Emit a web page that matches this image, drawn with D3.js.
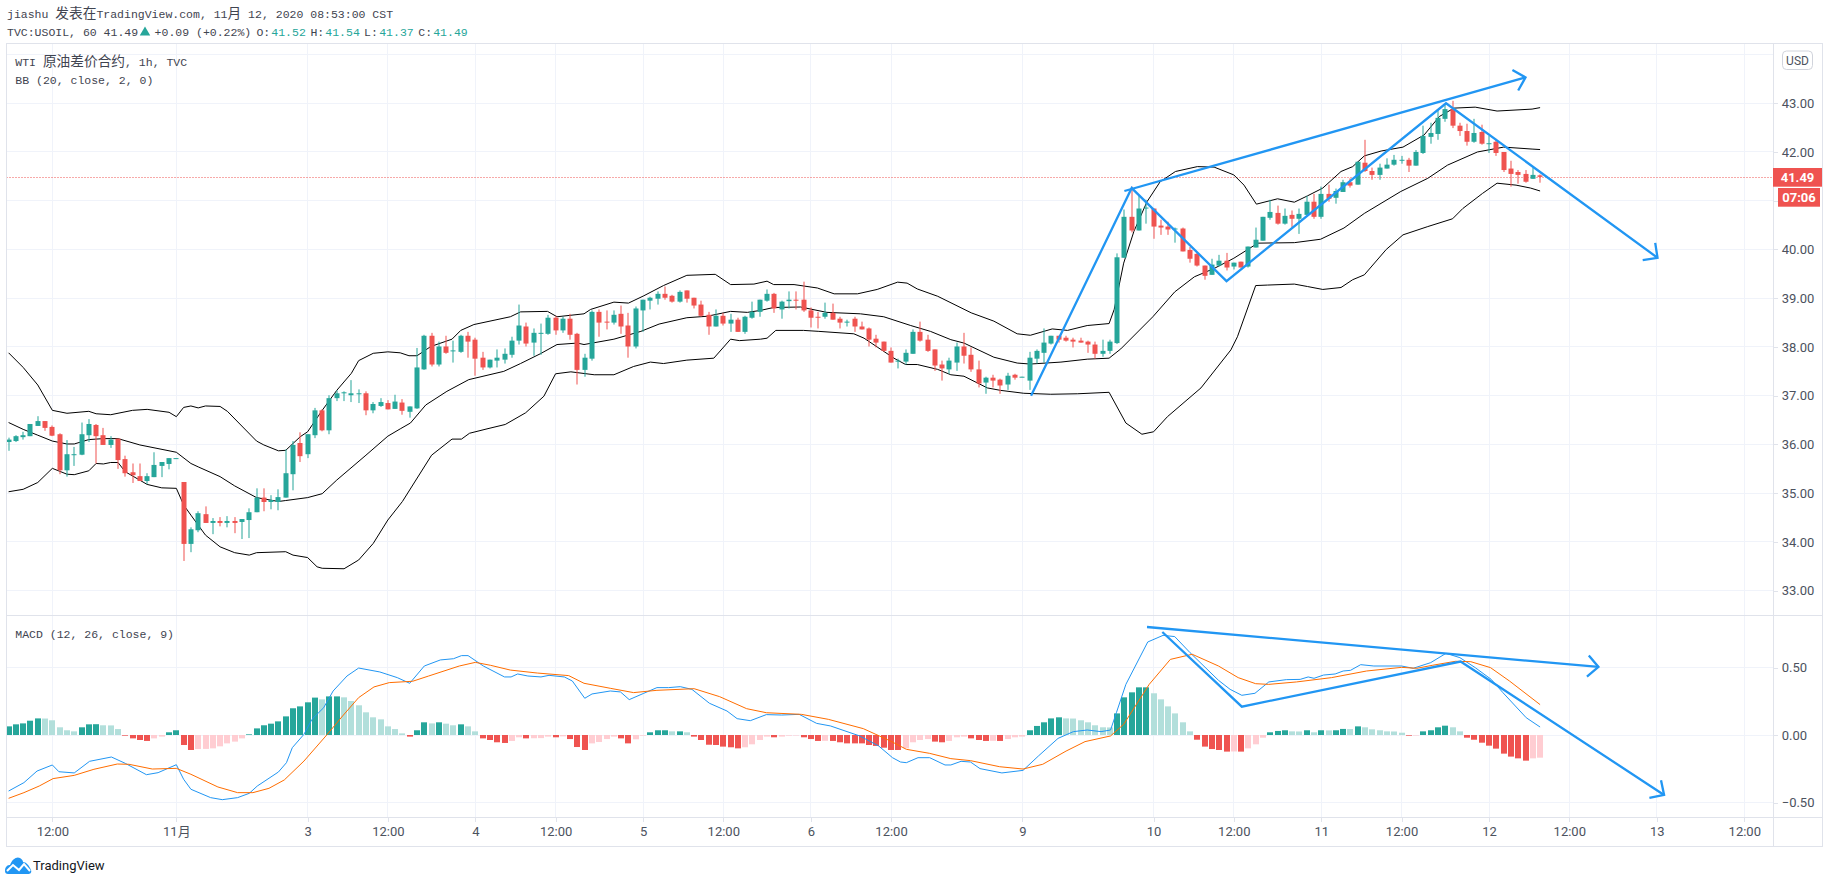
<!DOCTYPE html>
<html>
<head>
<meta charset="utf-8">
<script src="https://cdn.jsdelivr.net/npm/d3@7"></script>
<style>
  html, body { margin: 0; padding: 0; background: #fff; overflow: hidden; }
  text { white-space: pre; }
</style>
</head>
<body>
<div id="chart"></div>
<script>
// hourly candles, one value per bar
let openPx = [
  36.05,36.07,36.15,36.17,36.38,36.48,36.36,36.21,35.47,35.79,
  35.79,36.19,36.40,36.19,35.99,36.12,35.70,35.43,35.35,35.25,
  35.33,35.56,35.60,35.71,35.23,33.96,34.24,34.57,34.39,34.43,
  34.39,34.43,34.41,34.45,34.61,34.91,34.82,34.82,34.91,35.39,
  36.03,35.80,36.19,36.70,36.29,36.95,37.05,37.01,37.04,37.05,
  36.70,36.79,36.85,36.73,36.86,36.67,36.74,37.54,38.23,37.64,
  38.01,37.91,37.90,38.23,38.15,37.78,37.58,37.72,37.74,37.84,
  38.13,38.42,38.09,38.28,38.27,38.60,38.34,38.58,38.27,37.53,
  37.76,38.72,38.52,38.50,38.68,38.44,38.01,38.75,38.95,38.99,
  39.09,39.05,38.93,39.16,39.01,38.87,38.66,38.42,38.64,38.48,
  38.56,38.31,38.60,38.72,38.95,39.09,38.77,38.94,38.97,38.97,
  38.75,38.62,38.62,38.70,38.58,38.51,38.58,38.42,38.38,38.17,
  38.11,37.92,37.71,37.70,37.86,38.31,38.15,37.95,37.64,37.54,
  37.68,38.01,37.84,37.54,37.27,37.37,37.33,37.23,37.43,37.38,
  37.31,37.76,37.88,38.07,38.23,38.19,38.15,38.13,38.11,38.05,
  37.86,37.92,38.08,39.83,40.67,40.39,40.85,40.84,40.49,40.47,
  40.42,40.43,39.99,39.91,39.67,39.48,39.67,39.77,39.65,39.75,
  39.65,40.04,40.18,40.65,40.75,40.53,40.71,40.63,40.71,40.98,
  40.67,41.14,41.06,41.18,41.38,41.33,41.78,41.61,41.53,41.66,
  41.74,41.83,41.84,41.72,41.98,42.31,42.37,42.68,42.88,42.54,
  42.43,42.21,42.41,42.17,42.21,42.00,41.66,41.59,41.55,41.45,
  41.52];
let highPx = [
  36.14,36.19,36.26,36.42,36.58,36.48,36.39,36.23,36.09,35.95,
  36.45,36.52,36.42,36.34,36.17,36.12,35.77,35.61,35.61,35.41,
  35.84,35.64,35.72,35.72,35.23,34.30,34.63,34.73,34.49,34.51,
  34.53,34.51,34.47,34.69,35.10,35.10,34.96,35.08,35.90,36.07,
  36.25,36.21,36.75,36.72,37.01,37.11,37.09,37.32,37.13,37.09,
  36.87,36.95,36.91,37.02,36.93,36.78,37.98,38.25,38.29,38.11,
  38.23,38.13,38.25,38.31,38.19,37.90,37.74,37.95,37.97,38.21,
  38.87,38.50,38.38,38.48,38.66,38.64,38.62,38.68,38.29,37.86,
  38.75,38.77,38.75,38.75,38.85,38.70,38.83,38.97,39.03,39.14,
  39.24,39.07,39.16,39.16,39.01,38.95,38.72,38.77,38.70,38.68,
  38.60,38.64,38.93,38.97,39.18,39.11,38.95,39.14,39.14,39.34,
  38.81,38.72,38.91,38.89,38.62,38.56,38.62,38.52,38.40,38.25,
  38.11,37.99,37.76,37.95,38.36,38.52,38.25,37.95,37.72,37.78,
  38.09,38.29,37.99,37.72,37.39,37.43,37.35,37.47,37.45,37.39,
  37.90,37.95,38.38,38.23,38.23,38.23,38.19,38.19,38.13,38.11,
  38.15,38.15,39.92,40.82,41.29,41.12,41.02,40.84,40.61,40.57,
  40.45,40.45,40.05,39.93,39.67,39.81,39.89,39.93,39.73,39.75,
  40.06,40.45,40.67,41.02,40.90,40.84,40.80,40.84,41.10,41.14,
  41.29,41.33,41.25,41.43,41.46,41.80,42.25,41.68,41.76,41.87,
  41.94,41.92,41.88,42.04,42.54,42.60,42.86,42.97,43.05,42.60,
  42.58,42.68,42.56,42.33,42.27,42.00,41.82,41.63,41.63,41.68,
  41.54];
let lowPx = [
  35.87,36.05,36.10,36.17,36.38,36.28,36.17,35.39,35.34,35.56,
  35.78,36.05,35.61,35.99,35.93,35.50,35.34,35.21,35.25,35.19,
  35.33,35.33,35.49,35.71,33.61,33.79,34.20,34.39,34.16,34.32,
  34.30,34.18,34.06,34.08,34.61,34.63,34.67,34.65,34.91,35.06,
  35.64,35.72,36.13,36.27,36.21,36.89,36.89,36.87,36.85,36.60,
  36.64,36.77,36.72,36.73,36.61,36.55,36.73,37.53,37.60,37.60,
  37.86,37.68,37.88,37.78,37.41,37.53,37.56,37.58,37.66,37.78,
  38.05,38.01,37.82,37.84,38.25,38.25,38.29,38.15,37.23,37.39,
  37.72,38.21,38.36,38.46,38.27,37.78,37.97,38.31,38.77,38.87,
  38.97,38.91,38.91,38.91,38.79,38.62,38.25,38.42,38.44,38.31,
  38.31,38.27,38.58,38.62,38.93,38.70,38.58,38.79,38.77,38.72,
  38.40,38.38,38.58,38.56,38.38,38.42,38.31,38.36,38.01,37.99,
  37.90,37.68,37.56,37.64,37.86,38.11,37.90,37.51,37.31,37.45,
  37.51,37.66,37.49,37.17,37.04,37.17,37.04,37.12,37.33,37.38,
  37.12,37.66,37.68,38.05,38.09,38.11,37.99,38.09,37.88,37.76,
  37.80,37.86,38.06,39.83,40.35,40.39,40.53,40.22,40.30,40.30,
  40.14,39.96,39.73,39.65,39.38,39.48,39.65,39.57,39.59,39.63,
  39.63,40.04,40.18,40.61,40.51,40.51,40.45,40.32,40.71,40.63,
  40.63,40.98,40.94,41.18,41.27,41.33,41.59,41.43,41.43,41.66,
  41.72,41.76,41.59,41.72,41.96,42.17,42.25,42.62,42.49,42.33,
  42.13,42.19,42.15,41.98,41.92,41.59,41.29,41.35,41.37,41.45,
  41.37];
let closePx = [
  36.10,36.17,36.19,36.42,36.48,36.34,36.18,35.47,35.80,35.80,
  36.21,36.42,36.17,35.99,36.10,35.68,35.41,35.37,35.25,35.35,
  35.58,35.64,35.72,35.72,33.96,34.26,34.59,34.39,34.43,34.39,
  34.43,34.39,34.47,34.61,34.91,34.82,34.86,34.92,35.41,35.99,
  35.76,36.21,36.70,36.29,36.95,37.05,37.07,37.05,37.05,36.70,
  36.83,36.87,36.72,36.88,36.69,36.78,37.58,38.23,37.64,38.01,
  37.88,37.93,38.23,38.11,37.76,37.58,37.74,37.78,37.86,38.13,
  38.44,38.07,38.29,38.29,38.60,38.34,38.58,38.25,37.53,37.78,
  38.72,38.50,38.51,38.66,38.42,38.01,38.79,38.97,39.01,39.09,
  39.01,38.93,39.13,38.99,38.85,38.64,38.42,38.64,38.48,38.56,
  38.31,38.62,38.72,38.97,39.09,38.79,38.93,38.97,38.95,38.75,
  38.60,38.60,38.70,38.56,38.50,38.52,38.42,38.36,38.15,38.09,
  37.92,37.68,37.72,37.88,38.31,38.13,37.92,37.62,37.56,37.72,
  38.01,37.82,37.54,37.25,37.37,37.31,37.21,37.41,37.37,37.39,
  37.78,37.92,38.09,38.23,38.15,38.13,38.11,38.09,38.05,37.86,
  37.92,38.11,39.84,40.67,40.39,40.84,40.86,40.47,40.45,40.41,
  40.43,39.96,39.81,39.67,39.46,39.69,39.77,39.63,39.73,39.63,
  40.06,40.20,40.67,40.77,40.53,40.69,40.63,40.73,40.98,40.67,
  41.14,41.04,41.20,41.38,41.31,41.80,41.61,41.53,41.68,41.74,
  41.84,41.84,41.72,42.00,42.33,42.39,42.70,42.88,42.54,42.43,
  42.21,42.39,42.17,42.18,41.98,41.63,41.55,41.53,41.39,41.53,
  41.49];

// macd histogram, one value per bar
let macdHist = [
  .064,.079,.086,.106,.123,.122,.109,.057,.035,.027,
  .057,.079,.080,.072,.071,.044,-.005,-.025,-.037,-.044,
  -.025,-.012,.020,.035,-.074,-.111,-.104,-.103,-.099,-.084,
  -.062,-.049,-.025,.005,.049,.072,.084,.101,.138,.198,
  .212,.242,.277,.264,.286,.286,.279,.252,.220,.168,
  .131,.116,.064,.044,.012,-.012,.035,.094,.086,.094,
  .084,.072,.079,.064,.027,-.025,-.037,-.054,-.059,-.044,
  -.017,-.025,-.024,-.023,-.012,-.017,-.010,-.030,-.089,-.111,
  -.062,-.052,-.030,-.012,-.025,-.062,-.032,-.005,.020,.035,
  .035,.027,.027,.020,-.012,-.037,-.072,-.074,-.086,-.091,
  -.099,-.091,-.069,-.037,-.012,-.017,-.012,-.005,-.004,-.017,
  -.030,-.044,-.043,-.044,-.054,-.062,-.062,-.062,-.074,-.081,
  -.094,-.111,-.111,-.099,-.054,-.037,-.030,-.049,-.054,-.044,
  -.017,-.012,-.025,-.037,-.044,-.043,-.044,-.030,-.017,-.012,
  .035,.067,.094,.123,.131,.123,.122,.109,.094,.072,
  .057,.056,.160,.279,.316,.353,.353,.309,.264,.212,
  .160,.094,.027,-.035,-.086,-.104,-.111,-.123,-.122,-.123,
  -.099,-.069,-.020,.020,.030,.035,.027,.026,.035,.020,
  .035,.034,.035,.045,.044,.064,.057,.042,.035,.027,
  .026,.017,-.005,-.004,.027,.035,.057,.069,.057,.027,
  -.020,-.035,-.057,-.079,-.101,-.138,-.160,-.173,-.190,-.173,
  -.168];

// indicator lines, sampled as [bar, value] where the curve bends
let bbUpper = [[0,37.88],[2,37.58],[4,37.22],[6,36.70],[8,36.64],[11,36.68],[12,36.63],[14,36.61],[17,36.70],[19,36.72],[22,36.66],[23,36.57],[24,36.76],[25,36.79],[26,36.75],[27,36.79],[29,36.78],[30,36.68],[34,36.07],[35,35.99],[37,35.87],[38,35.88],[40,36.16],[41,36.26],[43,36.70],[45,37.11],[47,37.46],[48,37.72],[50,37.87],[52,37.90],[53.7,37.88],[54.9,37.82],[56,37.82],[57.9,38.01],[60.8,38.16],[62,38.34],[63.8,38.46],[68.8,38.62],[70.2,38.72],[73.9,38.73],[75.2,38.62],[78.9,38.68],[79.8,38.77],[83,38.92],[85,38.90],[87.1,39.05],[89.8,39.26],[93,39.47],[96.9,39.49],[99,39.28],[102.2,39.29],[104,39.35],[104.9,39.28],[107.7,39.28],[110.9,39.21],[113.2,39.09],[116.4,39.09],[119.1,39.18],[121.9,39.33],[123.2,39.31],[124.6,39.19],[127.4,39.04],[132,38.70],[135.1,38.53],[138.3,38.27],[140.1,38.24],[143.1,38.37],[145.2,38.34],[147.9,38.44],[150.9,38.48],[151.6,38.77],[152.9,39.72],[154.3,40.37],[156.1,40.98],[157.9,41.39],[160,41.60],[163,41.70],[165.3,41.69],[168,41.53],[169.4,41.32],[171.1,40.93],[174,41.04],[176.3,40.97],[178.1,41.10],[180.2,41.26],[182.7,41.60],[184.3,41.70],[185.9,41.92],[188.2,42.02],[191.2,42.10],[194.1,42.35],[196.2,42.73],[198.2,42.90],[201.1,42.92],[204.1,42.84],[208.9,42.88],[210,42.91]];
let bbBasis = [[0,36.45],[2,36.31],[4,36.19],[6,36.07],[8,36.01],[9,36.01],[11,36.10],[13,36.12],[15,36.12],[18,35.99],[23,35.84],[25,35.61],[26,35.54],[29,35.34],[31,35.15],[34,34.91],[37,34.83],[38,34.85],[41,34.91],[43,34.99],[45,35.27],[49,35.78],[52,36.17],[53.7,36.32],[55.1,36.44],[57.2,36.81],[60.1,37.09],[63.1,37.33],[67.9,37.50],[70.2,37.66],[72.9,37.86],[75.2,38.05],[78,38.08],[78.9,38.05],[83,38.16],[86.7,38.32],[89.2,38.47],[93,38.60],[95.8,38.63],[99,38.73],[101.3,38.71],[103.1,38.75],[104.9,38.81],[108.6,38.82],[112.2,38.71],[116.8,38.68],[120,38.62],[123.7,38.44],[126.4,38.32],[129.2,38.15],[131,38.08],[135.1,37.79],[138.3,37.67],[140.1,37.65],[144.3,37.69],[147.9,37.75],[150.9,37.77],[152.5,37.96],[156.9,38.62],[159.9,39.13],[162.6,39.44],[165.3,39.61],[168,39.82],[171.3,40.13],[176.3,40.14],[179.9,40.21],[183.1,40.44],[185.9,40.74],[190.9,41.19],[194.6,41.46],[197.3,41.73],[201.4,42.00],[205,42.10],[208.9,42.06],[210,42.05]];
let bbLower = [[0,35.03],[2,35.08],[4,35.22],[6,35.51],[8,35.39],[9,35.38],[11,35.46],[12,35.61],[13,35.60],[14,35.63],[15,35.63],[16,35.44],[19,35.18],[21,35.11],[23,35.10],[24,34.76],[25,34.55],[27,34.14],[29,33.90],[31,33.78],[33,33.73],[34,33.78],[38,33.80],[39,33.73],[41,33.68],[42.3,33.49],[43,33.46],[46,33.45],[48,33.63],[50,33.97],[52,34.45],[54,34.83],[58,35.78],[60.8,36.11],[62.1,36.11],[63.2,36.23],[65.6,36.32],[68.1,36.41],[70.9,36.65],[73.4,36.99],[75,37.45],[77.1,37.49],[80.3,37.43],[83,37.43],[85.7,37.60],[88,37.69],[89.8,37.66],[93,37.73],[96.7,37.77],[99,38.16],[100.2,38.13],[103.1,38.16],[104,38.18],[105.2,38.34],[109,38.34],[111.1,38.32],[115.9,38.27],[117.3,38.18],[119.1,38.00],[121.4,37.77],[123,37.64],[124.6,37.64],[127.4,37.54],[129.2,37.43],[131,37.40],[134.2,37.16],[136,37.11],[139.2,37.05],[142.9,37.03],[146.6,37.04],[150.9,37.07],[153.2,36.44],[155.4,36.21],[157,36.26],[158.9,36.57],[163.5,37.16],[167.6,37.94],[168.5,38.21],[171,39.26],[172.6,39.27],[176.3,39.29],[178.1,39.24],[180.2,39.18],[182.7,39.22],[184.3,39.38],[185.9,39.48],[188.9,40.00],[191.2,40.30],[194.6,40.47],[198,40.63],[199.4,40.84],[202.1,41.15],[204.1,41.36],[206.7,41.32],[208.7,41.26],[210,41.20]];
let macdLine = [[0,-.415],[2.1,-.353],[3.9,-.267],[6,-.222],[6.9,-.272],[9,-.281],[11.1,-.195],[14.1,-.163],[16,-.21],[18.9,-.294],[20.5,-.279],[23,-.22],[24,-.328],[25,-.402],[27.7,-.464],[29.3,-.479],[31.4,-.464],[33,-.432],[34.1,-.378],[37,-.274],[38.1,-.205],[38.9,-.094],[40.5,.005],[41.6,.116],[43.2,.202],[44.5,.326],[46.4,.437],[48,.496],[50.9,.467],[53.3,.425],[55,.383],[57,.511],[59.2,.556],[61,.565],[62.1,.588],[63,.588],[65.1,.511],[68,.43],[68.9,.43],[69.8,.452],[71.2,.437],[73,.43],[74.1,.442],[76.2,.43],[77.3,.4],[79,.272],[80,.304],[82.5,.326],[83.9,.319],[85.1,.262],[87.1,.309],[88.9,.351],[90.5,.351],[92.1,.358],[93.7,.338],[96.1,.235],[98.5,.178],[99.9,.121],[101.7,.106],[103.9,.151],[106,.148],[108.4,.153],[110.8,.086],[112.7,.067],[116.7,-.007],[119.3,-.081],[121.2,-.168],[122.3,-.2],[123.1,-.205],[124.7,-.168],[126.3,-.168],[128.4,-.222],[129.2,-.222],[130.6,-.195],[131.9,-.2],[133.2,-.249],[136.2,-.281],[139.1,-.262],[141.2,-.156],[143.9,-.025],[146,.025],[147.9,.037],[149.8,.025],[151.1,.037],[151.9,.165],[153.2,.375],[156.2,.689],[158.3,.738],[159.9,.729],[162,.61],[165.9,.405],[167.5,.338],[169.1,.294],[170.9,.309],[172.8,.393],[175.2,.41],[177.1,.412],[178.2,.43],[179,.42],[180.3,.444],[181.9,.452],[183,.474],[184,.479],[185.4,.521],[187.2,.511],[191,.511],[192.6,.494],[195,.536],[197.1,.605],[199,.573],[201.1,.499],[203.3,.412],[204.9,.314],[208.1,.128],[210,.059]];
let signalLine = [[0,-.469],[2.1,-.427],[4.2,-.378],[6.1,-.323],[9,-.299],[11.7,-.254],[14.9,-.215],[16.5,-.217],[19.7,-.252],[23,-.247],[25,-.291],[28.7,-.385],[31.4,-.427],[33.5,-.427],[35.7,-.395],[37.8,-.333],[40.5,-.193],[43.7,.005],[45.8,.141],[48,.277],[50.1,.356],[52.2,.388],[55.4,.398],[57.6,.437],[61.8,.511],[64,.538],[66.1,.516],[68.8,.481],[72.5,.459],[76.8,.44],[78.9,.383],[82.5,.346],[85.7,.314],[88.9,.331],[94,.343],[97.5,.284],[101.2,.195],[103.9,.165],[108.7,.153],[112.4,.116],[117.2,.047],[120.9,-.044],[123.1,-.106],[126.3,-.136],[129.2,-.175],[131.9,-.19],[135.9,-.235],[139.1,-.252],[141.8,-.217],[145,-.119],[147.6,-.049],[151.1,-.007],[152.9,.079],[156.4,.375],[159.3,.56],[162.3,.598],[165.9,.511],[168.6,.425],[171,.38],[172.8,.375],[176.6,.393],[181.4,.425],[186.2,.474],[191,.501],[193.1,.494],[195.2,.516],[198.4,.546],[200.5,.543],[203.2,.499],[205.8,.4],[210,.225]];

// hand drawn trend lines as [bar, value], the last point of the arrows carries the head
let priceZigzag = [[140.2,37.0],[154,41.26],[167,39.35],[197.1,43.0],[226.1,39.83]];
let priceTop = [[153,41.2],[208,43.53]];
let macdZigzag = [[158.2,.763],[169.1,.21],[199.1,.544],[227,-.444]];
let macdTop = [[156.1,.80],[218,.504]];

// axis ticks
let priceTicks = [33,34,35,36,37,38,39,40,41,42,43];
let macdTicks = [-0.5,0,0.5];
let timeBars = [6,23,41,52,64,75,87,98,110,121,139,157,168,180,191,203,214,226,238];
let timeLabels = ["12:00","11月","3","12:00","4","12:00","5","12:00","6","12:00","9","10","12:00","11","12:00","12","12:00","13","12:00"];
let lastPrice = 41.49;
let countdown = "07:06";

let width = 1828, height = 883;
let left = 6.5, right = 1822, axisX = 1773.7;
let topY = 43.5, paneY = 615, timeY = 817.5, bottomY = 846.5;

let GREEN = "#26a69a", RED = "#ef5350", GRID = "#f0f3fa", FRAME = "#e0e3eb", BLUE = "#2196f3";
let TEXT = "#3f4450";
let AXIS_FONT = "Roboto,'Noto Sans CJK SC',sans-serif";

let svg = d3.select("#chart").append("svg")
  .attr("width", width)
  .attr("height", height)
  .style("display", "block");

let x = d3.scaleLinear().domain([0, 238]).range([8.6, 1744.3]);
let yPrice = d3.scaleLinear().domain([33, 44]).range([590.7, 54.5]);
let yMacd = d3.scaleLinear().domain([-0.5, 0.5]).range([802.5, 667.5]);

// grid
let grid = svg.append("g").attr("stroke", GRID).attr("shape-rendering", "crispEdges");
grid.selectAll(".vp").data(timeBars).enter().append("line")
  .attr("x1", d => x(d)).attr("x2", d => x(d)).attr("y1", topY).attr("y2", timeY);
grid.selectAll(".hp").data(priceTicks.concat([44])).enter().append("line")
  .attr("x1", left).attr("x2", axisX).attr("y1", d => yPrice(d)).attr("y2", d => yPrice(d));
grid.selectAll(".hm").data(macdTicks).enter().append("line")
  .attr("x1", left).attr("x2", axisX).attr("y1", d => yMacd(d)).attr("y2", d => yMacd(d));

// last price line
svg.append("line")
  .attr("x1", left).attr("x2", axisX)
  .attr("y1", Math.round(yPrice(lastPrice)) + 0.5).attr("y2", Math.round(yPrice(lastPrice)) + 0.5)
  .attr("stroke", RED).attr("stroke-dasharray", "1 2");

// bollinger bands
let bbPath = d3.line().x(d => x(d[0])).y(d => yPrice(d[1]));
[bbUpper, bbBasis, bbLower].forEach(band => {
  svg.append("path").attr("d", bbPath(band)).attr("fill", "none").attr("stroke", "#000").attr("stroke-width", 1);
});

// candles
let bars = d3.range(openPx.length);
let candle = svg.append("g").selectAll("g").data(bars).enter().append("g")
  .attr("fill", i => closePx[i] >= openPx[i] ? GREEN : RED);
candle.append("rect")
  .attr("x", i => Math.round(x(i)) - 0.5).attr("width", 1)
  .attr("y", i => yPrice(highPx[i]))
  .attr("height", i => yPrice(lowPx[i]) - yPrice(highPx[i]));
candle.append("rect")
  .attr("x", i => Math.round(x(i)) - 2.5).attr("width", 5)
  .attr("y", i => yPrice(Math.max(openPx[i], closePx[i])))
  .attr("height", i => Math.max(1, Math.abs(yPrice(openPx[i]) - yPrice(closePx[i]))));

// macd histogram, shade comes from the change against the previous bar
function histColor(i) {
  let v = macdHist[i], prev = i > 0 ? macdHist[i - 1] : v;
  if (v >= 0) return v >= prev ? GREEN : "#b2dfdb";
  return v <= prev ? RED : "#ffcdd2";
}
svg.append("g").selectAll("rect").data(bars).enter().append("rect")
  .attr("x", i => Math.round(x(i)) - 3).attr("width", 6)
  .attr("y", i => Math.min(yMacd(0), yMacd(macdHist[i])))
  .attr("height", i => Math.abs(yMacd(macdHist[i]) - yMacd(0)))
  .attr("fill", i => histColor(i));

let macdPath = d3.line().x(d => x(d[0])).y(d => yMacd(d[1]));
svg.append("path").attr("d", macdPath(macdLine)).attr("fill", "none").attr("stroke", BLUE).attr("stroke-width", 1);
svg.append("path").attr("d", macdPath(signalLine)).attr("fill", "none").attr("stroke", "#ff6d00").attr("stroke-width", 1);

// trend lines with open arrow heads
function drawTrend(points, scaleY) {
  let pts = points.map(d => [x(d[0]), scaleY(d[1])]);
  svg.append("path").attr("d", d3.line()(pts))
    .attr("fill", "none").attr("stroke", BLUE).attr("stroke-width", 2.3);
  let a = pts[pts.length - 1], b = pts[pts.length - 2];
  let angle = Math.atan2(b[1] - a[1], b[0] - a[0]);
  let head = [-1, 1].map(s => [a[0] + 15 * Math.cos(angle + s * Math.PI / 4), a[1] + 15 * Math.sin(angle + s * Math.PI / 4)]);
  svg.append("path").attr("d", d3.line()([head[0], a, head[1]]))
    .attr("fill", "none").attr("stroke", BLUE).attr("stroke-width", 2.3);
}
drawTrend(priceZigzag, yPrice);
drawTrend(priceTop, yPrice);
drawTrend(macdZigzag, yMacd);
drawTrend(macdTop, yMacd);

// frame
let frame = svg.append("g").attr("stroke", FRAME).attr("fill", "none").attr("shape-rendering", "crispEdges");
frame.append("rect").attr("x", left).attr("y", topY).attr("width", right - left).attr("height", bottomY - topY);
frame.append("line").attr("x1", left).attr("x2", right).attr("y1", paneY).attr("y2", paneY);
frame.append("line").attr("x1", left).attr("x2", right).attr("y1", timeY).attr("y2", timeY);
frame.append("line").attr("x1", axisX).attr("x2", axisX).attr("y1", topY).attr("y2", bottomY);

// axes
function styleAxis(g) {
  g.select(".domain").remove();
  g.selectAll("line").attr("stroke", FRAME).attr("shape-rendering", "crispEdges");
  g.selectAll("text").attr("fill", "#4c525e").style("font", "13px " + AXIS_FONT);
}
svg.append("g").attr("transform", `translate(${axisX},0)`)
  .call(d3.axisRight(yPrice).tickValues(priceTicks).tickFormat(d3.format(".2f")).tickSize(4).tickPadding(4))
  .call(styleAxis);
svg.append("g").attr("transform", `translate(${axisX},0)`)
  .call(d3.axisRight(yMacd).tickValues(macdTicks).tickFormat(d3.format(".2f")).tickSize(4).tickPadding(4))
  .call(styleAxis);
svg.append("g").attr("transform", `translate(0,${timeY})`)
  .call(d3.axisBottom(x).tickValues(timeBars).tickFormat((d, i) => timeLabels[i]).tickSize(4).tickPadding(5))
  .call(styleAxis);

// price badges
function badge(x0, x1, y0, y1, str) {
  svg.append("rect").attr("x", x0).attr("y", y0).attr("width", x1 - x0).attr("height", y1 - y0).attr("fill", RED);
  svg.append("text").attr("x", (x0 + x1) / 2).attr("y", (y0 + y1) / 2 + 4.5)
    .attr("text-anchor", "middle").attr("fill", "#fff")
    .style("font", "bold 13px " + AXIS_FONT).text(str);
}
badge(1773, 1822, 168, 186.7, lastPrice.toFixed(2));
badge(1778, 1820, 188, 206.7, countdown);

svg.append("rect").attr("x", 1782.5).attr("y", 51).attr("width", 30).attr("height", 18.5).attr("rx", 4)
  .attr("fill", "#fff").attr("stroke", "#d1d4dc");
svg.append("text").attr("x", 1797.5).attr("y", 65).attr("text-anchor", "middle").attr("fill", "#4c525e")
  .style("font", "12px " + AXIS_FONT).text("USD");

// header and legends, the Chinese runs are set larger than the latin ones
function label(px, py, str, color) {
  let t = svg.append("text").attr("x", px).attr("y", py).attr("fill", color || TEXT)
    .style("font", "11.5px 'Liberation Mono',monospace");
  str.split(/([\u4e00-\u9fff]+)/).forEach((run, k) => {
    if (!run) return;
    let span = t.append("tspan").text(run);
    if (k % 2) span.style("font", "13.7px 'Noto Sans CJK SC',sans-serif");
  });
  return t;
}
label(7, 18, "jiashu 发表在TradingView.com, 11月 12, 2020 08:53:00 CST");
label(7, 36, "TVC:USOIL, 60 41.49");
svg.append("path").attr("d", d3.symbol().type(d3.symbolTriangle).size(48)()).attr("fill", GREEN)
  .attr("transform", "translate(145,32.5)");
label(154.6, 36, "+0.09 (+0.22%)");
label(256.4, 36, "O:");
label(271.3, 36, "41.52", GREEN);
label(310.4, 36, "H:");
label(325.3, 36, "41.54", GREEN);
label(364, 36, "L:");
label(379.2, 36, "41.37", GREEN);
label(418.3, 36, "C:");
label(433.2, 36, "41.49", GREEN);
label(15.3, 66, "WTI 原油差价合约, 1h, TVC");
label(15.3, 84, "BB (20, close, 2, 0)");
label(15.3, 638, "MACD (12, 26, close, 9)");

// logo
let logo = svg.append("g").attr("transform", "translate(5,856)");
logo.append("path").attr("fill", BLUE)
  .attr("d", "M0,15 C0,10 3,9 5,9 C7,3 12,0 15,2 C17,3 18,5 18,6 C21,6 24,9 26,14 C27,17 25,18 23,18 L3,18 C1,18 0,17 0,15 Z");
logo.append("path").attr("fill", "none").attr("stroke", "#fff").attr("stroke-width", 2)
  .attr("d", "M2,15 L8,9 L14,14 L19,8 L25,15");
svg.append("text").attr("x", 33).attr("y", 870).attr("fill", "#131722")
  .style("font", "13px Roboto,sans-serif").text("TradingView");
</script>
</body>
</html>
